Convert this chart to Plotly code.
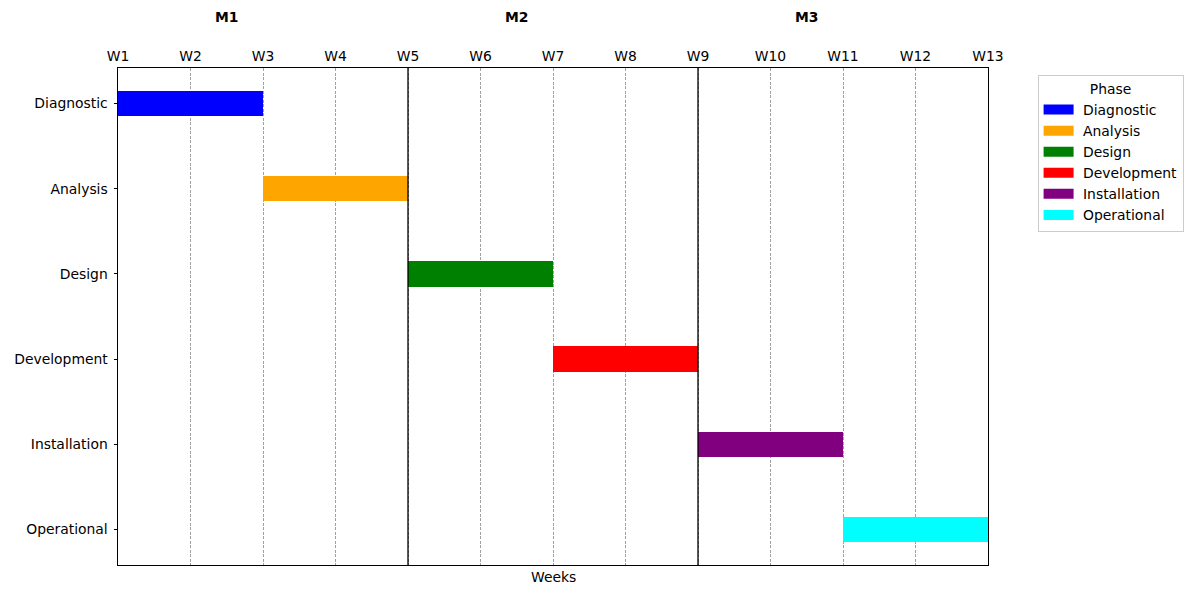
import plotly.graph_objects as go

phases = ["Diagnostic", "Analysis", "Design", "Development", "Installation", "Operational"]
starts = [1, 3, 5, 7, 9, 11]
durations = [2, 2, 2, 2, 2, 2]
colors = ["blue", "orange", "green", "red", "purple", "cyan"]
week_vals = list(range(1, 14))
week_labels = [f"W{i}" for i in week_vals]
months = ["M1", "M2", "M3"]
month_centers = [2.5, 6.5, 10.5]
month_bounds = [5, 9]

FONT = "DejaVu Sans"
FS = 13.9
fig = go.Figure()
for i, (p, s, d, c) in enumerate(zip(phases, starts, durations, colors)):
    fig.add_trace(go.Bar(
        x=[d], y=[i], base=[s], orientation="h", width=0.3,
        marker=dict(color=c, line=dict(width=0)), name=p, showlegend=False,
    ))
# legend proxies (rectangular patches)
for p, c in zip(phases, colors):
    fig.add_trace(go.Scatter(
        x=[None], y=[None], mode="lines", line=dict(color=c, width=10), name="&nbsp;" + p,
    ))

for b in month_bounds:
    fig.add_shape(type="line", x0=b, x1=b, y0=0, y1=1, xref="x", yref="paper",
                  line=dict(color="black", width=1.3), layer="above")

for m, cx in zip(months, month_centers):
    fig.add_annotation(x=cx, y=1.0, xref="x", yref="paper", yshift=51, yanchor="middle",
                       text=f"<b>{m}</b>", showarrow=False,
                       font=dict(family=FONT, size=FS, color="black"))

fig.add_annotation(x=0.5, y=0, xref="paper", yref="paper", yshift=-12, yanchor="middle",
                   text="Weeks", showarrow=False,
                   font=dict(family=FONT, size=FS, color="black"))

fig.update_layout(
    width=1200, height=600,
    margin=dict(l=118, r=212, t=68, b=35),
    plot_bgcolor="white", paper_bgcolor="white",
    font=dict(family=FONT, size=FS, color="black"),
    barmode="overlay",
    bargap=0,
    showlegend=True,
    legend=dict(
        title=dict(text="Phase", side="top center", font=dict(family=FONT, size=FS)),
        x=1.057, y=0.986, xanchor="left", yanchor="top",
        bordercolor="#cccccc", borderwidth=1, bgcolor="white",
        font=dict(family=FONT, size=FS), tracegroupgap=0, itemwidth=30,
    ),
    xaxis=dict(
        side="top", range=[1, 13], tickvals=week_vals, ticktext=week_labels,
        showgrid=True, gridcolor="#a0a0a0", griddash="3px,1.5px", gridwidth=0.8,
        showline=True, linecolor="black", linewidth=1, mirror=True,
        ticks="", zeroline=False,
        layer="above traces", ticklabelstandoff=0,
    ),
    yaxis=dict(
        range=[5.415, -0.415], tickvals=list(range(len(phases))), ticktext=phases,
        showgrid=False, showline=True, linecolor="black", linewidth=1, mirror=True,
        ticks="outside", ticklen=3.5, tickcolor="black", zeroline=False,
        ticklabelstandoff=3,
    ),
)

fig.write_html("out.html")
